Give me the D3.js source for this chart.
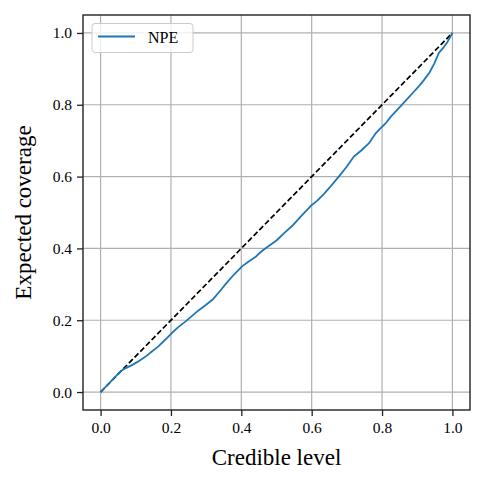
<!DOCTYPE html>
<html>
<head>
<meta charset="utf-8">
<script src="https://cdn.jsdelivr.net/npm/d3@7"></script>
<style>
	body { margin: 0; background: #fff; }
	svg text { font-family: "Liberation Serif", "DejaVu Serif", serif; }
</style>
</head>
<body>
<svg id="chart" width="485" height="485"></svg>
<script>
const levels = [0, 0.02, 0.04, 0.056, 0.07, 0.089, 0.105, 0.127, 0.145, 0.165, 0.185, 0.201,
	0.22, 0.241, 0.26, 0.279, 0.3, 0.321, 0.34, 0.36, 0.38, 0.402, 0.42, 0.44, 0.455, 0.473,
	0.5, 0.521, 0.545, 0.568, 0.597, 0.616, 0.635, 0.655, 0.677, 0.7, 0.72, 0.74, 0.763, 0.78,
	0.791, 0.81, 0.825, 0.845, 0.868, 0.891, 0.905, 0.92, 0.935, 0.948, 0.962, 0.975, 0.986, 1];
const coverage = [0, 0.02, 0.041, 0.057, 0.066, 0.075, 0.084, 0.098, 0.112, 0.128, 0.147, 0.163,
	0.18, 0.196, 0.212, 0.228, 0.243, 0.26, 0.282, 0.306, 0.328, 0.35, 0.363, 0.376, 0.39, 0.403,
	0.422, 0.442, 0.463, 0.488, 0.518, 0.533, 0.552, 0.574, 0.6, 0.628, 0.656, 0.672, 0.693, 0.718,
	0.73, 0.748, 0.767, 0.788, 0.812, 0.837, 0.852, 0.87, 0.89, 0.914, 0.945, 0.96, 0.975, 1];
const diagonal = [0, 1];
const tickValues = [0, 0.2, 0.4, 0.6, 0.8, 1.0];
const seriesName = "NPE";

// layout
const plotLeft = 83, plotRight = 470, plotTop = 15, plotBottom = 410;

const svg = d3.select("#chart");

const xScale = d3.scaleLinear().domain([-0.05, 1.05]).range([plotLeft, plotRight]);
const yScale = d3.scaleLinear().domain([-0.05, 1.05]).range([plotBottom, plotTop]);

// grid
const grid = svg.append("g");
grid.selectAll(".gx").data(tickValues).enter()
	.append("line")
	.attr("x1", d => xScale(d)).attr("x2", d => xScale(d))
	.attr("y1", plotTop).attr("y2", plotBottom)
	.attr("stroke", "#b0b0b0").attr("stroke-width", 1.2);
grid.selectAll(".gy").data(tickValues).enter()
	.append("line")
	.attr("y1", d => yScale(d)).attr("y2", d => yScale(d))
	.attr("x1", plotLeft).attr("x2", plotRight)
	.attr("stroke", "#b0b0b0").attr("stroke-width", 1.2);

// diagonal reference
svg.append("path")
	.datum(diagonal)
	.attr("d", d3.line().x(d => xScale(d)).y(d => yScale(d)))
	.attr("fill", "none")
	.attr("stroke", "#000")
	.attr("stroke-width", 1.7)
	.attr("stroke-dasharray", "5.5,2.6");

// coverage curve
const pts = levels.map((l, i) => [l, coverage[i]]);
svg.append("path")
	.datum(pts)
	.attr("d", d3.line().x(d => xScale(d[0])).y(d => yScale(d[1])))
	.attr("fill", "none")
	.attr("stroke", "#1f77b4")
	.attr("stroke-width", 1.8)
	.attr("stroke-linejoin", "round");

// axes
const fmt = d3.format(".1f");
const xAxis = svg.append("g")
	.attr("transform", `translate(0,${plotBottom})`)
	.call(d3.axisBottom(xScale).tickValues(tickValues).tickFormat(fmt).tickSize(6).tickPadding(6));
const yAxis = svg.append("g")
	.attr("transform", `translate(${plotLeft},0)`)
	.call(d3.axisLeft(yScale).tickValues(tickValues).tickFormat(fmt).tickSize(6).tickPadding(5));

[xAxis, yAxis].forEach(a => {
	a.select(".domain").remove();
	a.selectAll(".tick line").attr("stroke", "#222").attr("stroke-width", 1.3);
	a.selectAll(".tick text")
		.attr("fill", "#000")
		.style("font-size", "15.5px")
		.style("font-family", "'Liberation Serif', serif");
});

// frame
svg.append("rect")
	.attr("x", plotLeft).attr("y", plotTop)
	.attr("width", plotRight - plotLeft).attr("height", plotBottom - plotTop)
	.attr("fill", "none")
	.attr("stroke", "#222")
	.attr("stroke-width", 1.4);

// labels
svg.append("text")
	.attr("x", (plotLeft + plotRight) / 2)
	.attr("y", 465)
	.attr("text-anchor", "middle")
	.style("font-size", "23px")
	.attr("fill", "#000")
	.text("Credible level");

svg.append("text")
	.attr("transform", `translate(31,${(plotTop + plotBottom) / 2}) rotate(-90)`)
	.attr("text-anchor", "middle")
	.style("font-size", "23px")
	.attr("fill", "#000")
	.text("Expected coverage");

// legend
const legend = svg.append("g");
legend.append("rect")
	.attr("x", 92).attr("y", 23.5)
	.attr("width", 101).attr("height", 29)
	.attr("rx", 3)
	.attr("fill", "#fff").attr("fill-opacity", 0.8)
	.attr("stroke", "#ccc").attr("stroke-width", 1);
legend.append("line")
	.attr("x1", 98).attr("x2", 135)
	.attr("y1", 36.5).attr("y2", 36.5)
	.attr("stroke", "#1f77b4").attr("stroke-width", 1.8);
legend.append("text")
	.attr("x", 148).attr("y", 43)
	.style("font-size", "16px")
	.attr("fill", "#000")
	.text(seriesName);
</script>
</body>
</html>
